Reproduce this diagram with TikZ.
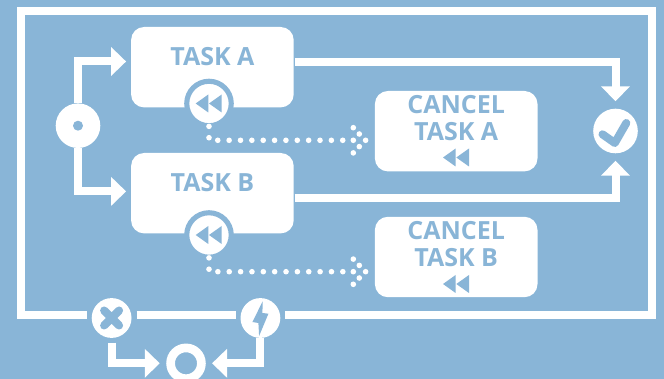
\documentclass[tikz,border=0pt]{standalone}
\usepackage{xcolor}
\usepackage{fontspec}
\setmainfont{Open Sans}
\usepackage{tikz}
\usetikzlibrary{arrows.meta, calc}
\definecolor{panel-blue}{HTML}{89B5D7}

\tikzset{
    flow/.style={draw=white, line width=8pt, -{Triangle[length=15pt,width=28pt]}},
    framing/.style={draw=white, line width=8pt, shorten <=5pt, shorten >=5pt},
    dotpath/.style={draw=white, line width=5.6pt, line cap=round, dash pattern=on 0pt off 11.36pt},
    taskbox/.style={fill=white, text=panel-blue, rounded corners=13pt, align=center, inner sep=0pt, outer sep=0pt,
        minimum width=162.6pt, minimum height=80.4pt, font=\fontsize{25}{21}\selectfont\bfseries},
    cancelbox/.style={taskbox, font=\fontsize{25}{26.4}\selectfont\bfseries},
    rewindnode/.style={circle, fill=white, draw=panel-blue, line width=5.1pt, minimum size=44.5pt, inner sep=0pt, outer sep=0pt},
    bigicon/.style={circle, fill=white, minimum size=44.6pt, inner sep=0pt, outer sep=0pt},
    smallicon/.style={circle, fill=white, minimum size=39.8pt, inner sep=0pt, outer sep=0pt},
    ringicon/.style={circle, draw=white, line width=8.7pt, minimum size=30.8pt, inner sep=0pt, outer sep=4.35pt},
    iconstroke/.style={draw=panel-blue, line width=8pt, line cap=round, line join=round},
    rewindmark/.pic={
        \fill[panel-blue] (-13.3,0) -- (-0.7,-9) -- (-0.7,9) -- cycle;
        \fill[panel-blue] (0,0) -- (12.7,-9) -- (12.7,9) -- cycle;
    },
    crossmark/.pic={
        \draw[iconstroke] (-7.5,-7.5) -- (7.5,7.5) (-7.5,7.5) -- (7.5,-7.5);
    },
    checkmark/.pic={
        \draw[iconstroke] (-13,3.3) -- (-0.7,12) -- (10.8,-8);
    },
    boltmark/.pic={
        \fill[panel-blue] (2.3,-16.7) -- (-8,4) -- (-2,5) -- (-1.3,18) -- (8,-4.3) -- (2,-5) -- cycle;
    },
    dothead/.pic={
        \foreach \p in {(8,-12.6),(14,-6.3),(20.3,0),(14,6.3),(8,12.6),(8,0)}
            \fill[white] \p circle (2.8);
    }
}

\begin{document}
\begin{tikzpicture}[x=1pt, y=-1pt]
    \path[use as bounding box, clip] (0,0) rectangle (664,379);
    \fill[panel-blue] (0,0) rectangle (664,379);

    % boxes
    \node[taskbox] (taskA) at (212.4,67.2) {TASK A\\~};
    \node[taskbox] (taskB) at (212.4,193.2) {TASK B\\~};
    \node[cancelbox] (cancelA) at (456.2,131.2) {CANCEL\\TASK A\\~};
    \node[cancelbox] (cancelB) at (456.2,257) {CANCEL\\TASK B\\~};
    \node[rewindnode] (rewindA) at (209,103.5) {};
    \node[rewindnode] (rewindB) at (209,235) {};

    % icons
    \node[bigicon] (startIcon) at (78,125.7) {};
    \node[bigicon] (checkIcon) at (615.5,131) {};
    \node[smallicon] (failIcon) at (111.6,318) {};
    \node[smallicon] (boltIcon) at (260.4,318) {};
    \node[ringicon] (ringIcon) at (186,363.3) {};
    \fill[panel-blue] (startIcon) circle (5);

    \pic at (rewindA) {rewindmark};
    \pic at (rewindB) {rewindmark};
    \pic at (456.3,157.5) {rewindmark};
    \pic at (456.3,284) {rewindmark};
    \pic at (checkIcon) {checkmark};
    \pic at (failIcon) {crossmark};
    \pic at (boltIcon) {boltmark};

    % outer frame
    \coordinate (frameNW) at (21,10.7);
    \coordinate (frameSE) at (652,315.5);
    \draw[framing] ([yshift=2.5pt]failIcon.west) -| (frameNW) -| (frameSE) -- ([yshift=2.5pt]boltIcon.east);
    \draw[framing] ([yshift=2.5pt]failIcon.east) -- ([yshift=2.5pt]boltIcon.west);

    % flow
    \draw[flow, shorten >=5pt] (startIcon) |- ([yshift=5.7pt]taskA.west);
    \draw[flow, shorten >=5pt] (startIcon) |- ([yshift=1.8pt]taskB.west);
    \draw[flow, shorten <=1pt, shorten >=7.4pt] ([yshift=5.2pt]taskA.east) -| (checkIcon);
    \draw[flow, shorten <=1pt, shorten >=7.4pt] ([yshift=-4.8pt]taskB.east) -| (checkIcon);
    \draw[flow, shorten <=4.7pt, shorten >=6.5pt] (failIcon) |- (ringIcon);
    \draw[flow, shorten >=6.3pt] (boltIcon) |- (ringIcon);

    % dotted links
    \coordinate (dotA) at (345.3,140.3);
    \coordinate (dotB) at (345.3,271.7);
    \draw[dotpath, shorten <=0.6pt] (rewindA) |- (dotA);
    \draw[dotpath, shorten <=0.6pt] (rewindB) |- (dotB);
    \pic at (dotA) {dothead};
    \pic at (dotB) {dothead};
\end{tikzpicture}
\end{document}
